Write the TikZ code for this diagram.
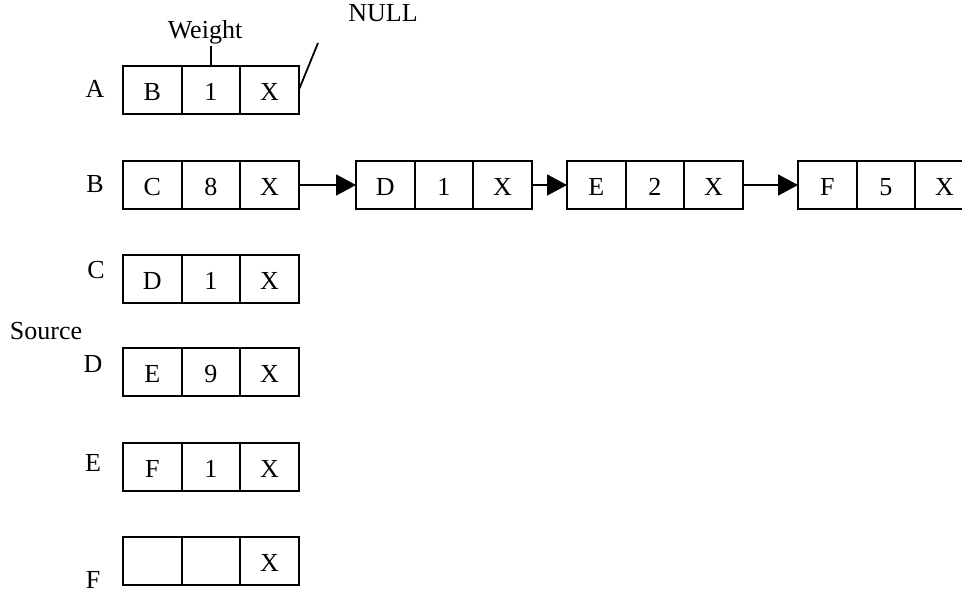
\documentclass[tikz,border=0pt]{standalone}
\usepackage{fontspec}
\setmainfont{Liberation Serif}
\usepackage{tikz}
\usetikzlibrary{arrows.meta, positioning}

\begin{document}
\begin{tikzpicture}[
    x=0.5pt, y=-0.5pt,
    font=\fontsize{13}{15}\selectfont,
    cell/.style={rectangle, draw, line width=0.9pt, minimum width=29.3pt, minimum height=24pt, inner sep=0pt, outer sep=0pt, text height=10.5pt, text depth=0pt},
    hole/.style={rectangle, minimum width=29.3pt, minimum height=24pt, inner sep=0pt, outer sep=0pt, text height=10.5pt, text depth=0pt},
    lbl/.style={inner sep=1pt},
    arrow/.style={-{Triangle[length=10pt, width=10.5pt]}, line width=0.9pt}
  ]
    \useasboundingbox (0,0) rectangle (962,595);

    % vertex labels
    \node[lbl] (la) at (95,89) {A};
    \node[lbl] (lb) at (95,184) {B};
    \node[lbl] (lc) at (96,270) {C};
    \node[lbl] (ld) at (93,364) {D};
    \node[lbl] (le) at (93,463) {E};
    \node[lbl] (lf) at (93,580) {F};
    \node[lbl] (source) at (46,331) {Source};

    % row A
    \node[cell] (a1) at (152.3,90) {B};
    \node[cell, right=0pt of a1] (a2) {1};
    \node[cell, right=0pt of a2] (a3) {X};

    % row B, a chain of four records
    \node[cell] (b1) at (152.3,185) {C};
    \node[cell, right=0pt of b1] (b2) {8};
    \node[cell, right=0pt of b2] (b3) {X};
    \node[cell] (b4) at (385.3,185) {D};
    \node[cell, right=0pt of b4] (b5) {1};
    \node[cell, right=0pt of b5] (b6) {X};
    \node[cell] (b7) at (596.3,185) {E};
    \node[cell, right=0pt of b7] (b8) {2};
    \node[cell, right=0pt of b8] (b9) {X};
    \node[cell] (b10) at (827.3,185) {F};
    \node[cell, right=0pt of b10] (b11) {5};
    \node[hole, right=0pt of b11] (b12) {X};

    % rows C to F
    \node[cell] (c1) at (152.3,279) {D};
    \node[cell, right=0pt of c1] (c2) {1};
    \node[cell, right=0pt of c2] (c3) {X};
    \node[cell] (d1) at (152.3,372) {E};
    \node[cell, right=0pt of d1] (d2) {9};
    \node[cell, right=0pt of d2] (d3) {X};
    \node[cell] (e1) at (152.3,467) {F};
    \node[cell, right=0pt of e1] (e2) {1};
    \node[cell, right=0pt of e2] (e3) {X};
    \node[cell] (f1) at (152.3,561) {};
    \node[cell, right=0pt of f1] (f2) {};
    \node[cell, right=0pt of f2] (f3) {X};

    % callouts
    \node[lbl] (weight) at (205,32) {Weight};
    \node[lbl] (null) at (383,13) {NULL};
    \coordinate (nulltip) at (318,43);

    \draw[line width=0.9pt] (a2.north) -- (a2.north |- weight.south);
    \draw[line width=0.9pt] (a3.east) -- (nulltip);

    % last record runs off the edge
    \draw[line width=0.9pt] (b12.north west) -- (962,185 |- b12.north);
    \draw[line width=0.9pt] (b12.south west) -- (962,185 |- b12.south);

    \draw[arrow] (b3.east) -- (b4.west);
    \draw[arrow] (b6.east) -- (b7.west);
    \draw[arrow] (b9.east) -- (b10.west);
  \end{tikzpicture}
\end{document}
